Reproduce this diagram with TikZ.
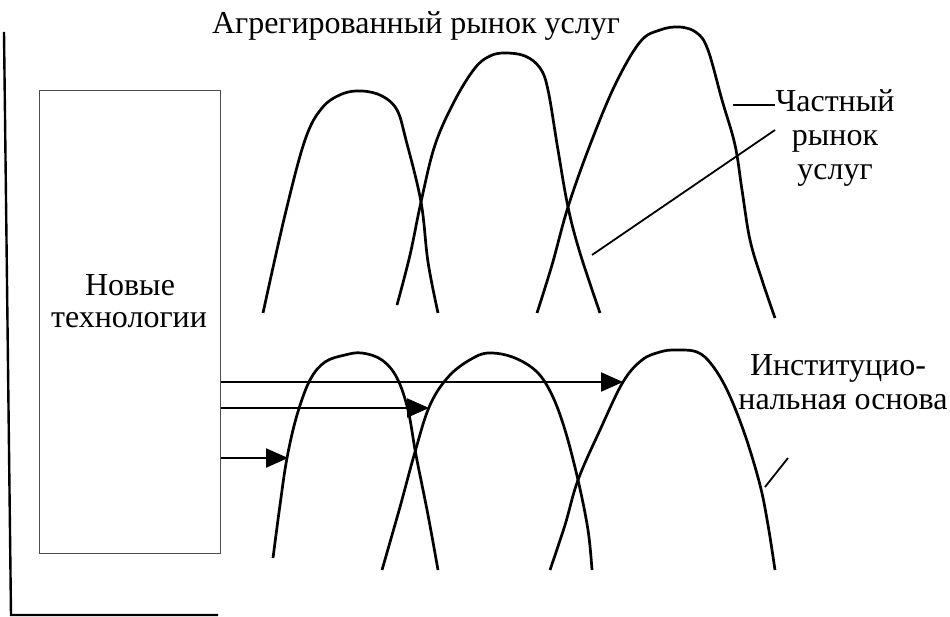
\documentclass[tikz,border=0pt]{standalone}
\usepackage{fontspec}
\setmainfont{Liberation Serif}
\usetikzlibrary{arrows.meta}
\begin{document}
\begin{tikzpicture}[x=1pt,y=-1pt,
  curve/.style={line width=2.7pt, smooth, tension=0.6, line join=round},
  arr/.style={line width=2.2pt, -{Triangle[length=22pt,width=19pt]}},
  lead/.style={line width=1.8pt},
  txt/.style={font=\fontsize{32}{38}\selectfont, inner sep=0pt},
  boxst/.style={draw=black!70, line width=1pt, minimum width=181pt, minimum height=462pt, inner sep=0pt}
]
\useasboundingbox (0,0) rectangle (950,617);
% frame
\draw[line width=2.4pt] (4,32) -- (11,615) -- (218,615);
% box
\node[boxst] (box) at (129.5,322) {};
\node[txt, anchor=base] (nt1) at (130,296) {Новые};
\node[txt, anchor=base] (nt2) at (129,328) {технологии};
% title
\node[txt, anchor=base] (title) at (416,34) {Агрегированный рынок услуг};
% upper curves
\draw[curve] plot coordinates {(263,313) (285,215) (305,140) (322,108) (342,94) (362,91) (382,96) (397,110) (406,140) (421,202) (428,262) (438,313)};
\draw[curve] plot coordinates {(397,305) (410,255) (421,202) (435,145) (455,100) (475,68) (490,56) (505,53) (525,56) (540,68) (548,90) (558,150) (568,207) (580,253) (600,313)};
\draw[curve] plot coordinates {(537,313) (552,265) (568,207) (590,145) (615,85) (640,42) (660,30) (680,27) (697,33) (708,50) (722,100) (735,145) (742,190) (750,240) (762,280) (775,318)};
% lower curves
\draw[curve] plot coordinates {(273,558) (280,505) (287,458) (297,415) (310,380) (325,362) (345,355) (362,353) (382,360) (397,378) (408,410) (416,455) (428,515) (438,570)};
\draw[curve] plot coordinates {(382,570) (400,507) (415,452) (430,405) (450,375) (475,357) (492,353) (515,358) (537,372) (552,395) (565,430) (578,480) (588,530) (592,570)};
\draw[curve] plot coordinates {(550,570) (565,525) (578,480) (600,430) (623,382) (642,360) (660,352) (675,350) (697,352) (712,365) (728,392) (745,435) (760,485) (768,525) (775,570)};
% arrows
\coordinate (t1) at (623,382);
\coordinate (t2) at (429,408);
\coordinate (t3) at (288,458);
\draw[arr] (box.east |- t1) -- (t1);
\draw[arr] (box.east |- t2) -- (t2);
\draw[arr] (box.east |- t3) -- (t3);
% labels right
\node[txt, anchor=base] (pm1) at (835,112) {Частный};
\node[txt, anchor=base] (pm2) at (835,146) {рынок};
\node[txt, anchor=base] (pm3) at (835,180) {услуг};
\coordinate (l1a) at (733,105);
\coordinate (l1b) at (775,105);
\draw[lead] (l1a) -- (l1b);
\coordinate (l2a) at (775,130);
\coordinate (l2b) at (592,255);
\draw[lead] (l2a) -- (l2b);
\node[txt, anchor=base] (inst1) at (838,375) {Институцио-};
\node[txt, anchor=base] (inst2) at (843,409) {нальная основа};
\coordinate (l3a) at (765,487);
\coordinate (l3b) at (788,458);
\draw[lead] (l3a) -- (l3b);
\end{tikzpicture}
\end{document}
